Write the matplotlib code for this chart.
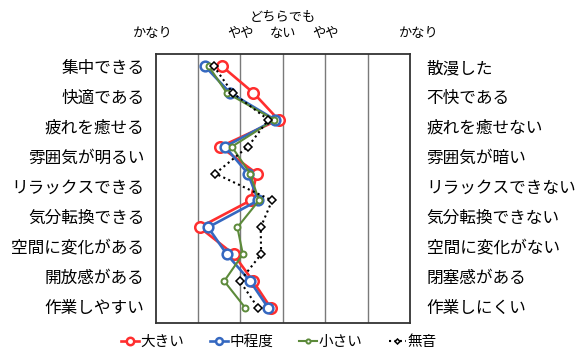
import numpy as np
import matplotlib
matplotlib.use("Agg")
import matplotlib.pyplot as plt
from matplotlib import transforms

plt.rcParams['font.family'] = ['Noto Sans CJK JP', 'DejaVu Sans']

# Semantic differential profile: score per item, -3 (left adjective) .. +3 (right adjective)
left_labels = ["集中できる", "快適である", "疲れを癒せる", "雰囲気が明るい", "リラックスできる",
               "気分転換できる", "空間に変化がある", "開放感がある", "作業しやすい"]
right_labels = ["散漫した", "不快である", "疲れを癒せない", "雰囲気が暗い", "リラックスできない",
                "気分転換できない", "空間に変化がない", "閉塞感がある", "作業しにくい"]
scale_labels = ["かなり", "やや", "ない", "やや", "かなり"]
scale_pos = [-3.07, -1.0, 0.0, 1.0, 3.2]
scale_title = "どちらでも"

series_names = ["大きい", "中程度", "小さい", "無音"]
large = [-1.44, -0.69, -0.10, -1.47, -0.61, -0.76, -1.96, -1.16, -0.70, -0.28]
medium = [-1.84, -1.24, -0.18, -1.36, -0.82, -0.58, -1.76, -1.32, -0.77, -0.34]
small = [-1.75, -1.32, -0.20, -1.20, -0.77, -0.56, -1.07, -0.94, -1.38, -0.88]
silent = [-1.63, -1.18, -0.34, -0.82, -1.59, -0.25, -0.52, -0.51, -1.01, -0.58]

fig = plt.figure(figsize=(5.77, 3.49), dpi=100)
ax = fig.add_axes([155.5 / 577, 1 - 322.7 / 349, (410 - 155.5) / 577, (322.7 - 53.5) / 349])

ypos = np.arange(len(large))
styles = [
    dict(color="#FF2E2E", lw=1.9, marker="o", ms=7.6, mew=1.8, mfc="white", ls="-"),
    dict(color="#3568C0", lw=1.9, marker="o", ms=7.0, mew=1.8, mfc="white", ls="-"),
    dict(color="#5C8A3A", lw=1.5, marker="o", ms=4.3, mew=1.4, mfc="white", ls="-"),
    dict(color="black", lw=1.5, marker="D", ms=3.6, mew=1.1, mfc="white", ls=(0, (1, 1.6))),
]
handles = []
for vals, name, st in zip([large, medium, small, silent], series_names, styles):
    h, = ax.plot(vals, ypos, label=name, zorder=3, **st)
    handles.append(h)

ax.set_xlim(-3, 3)
ax.set_ylim(9.546, -0.465)
for gx in [-2, -1, 0, 1, 2]:
    ax.axvline(gx, color="#7a7a7a", lw=1.0, zorder=1)
for sp in ax.spines.values():
    sp.set_color("#333333")
    sp.set_linewidth(1.3)
ax.set_xticks([])
ax.set_yticks([])

# Item labels on both sides, one row per adjective pair
lab_l = ax.twinx()
lab_l.set_ylim(9.06, 0.06)
lab_l.yaxis.tick_left()
lab_l.set_yticks(np.arange(9) + 0.5)
lab_l.set_yticklabels(left_labels, fontsize=12)
lab_l.tick_params(length=0, pad=8)

lab_r = ax.twinx()
lab_r.set_ylim(9.06, 0.06)
lab_r.set_yticks(np.arange(9) + 0.5)
lab_r.set_yticklabels(right_labels, fontsize=12)
lab_r.tick_params(length=0, pad=12)
for a in (lab_l, lab_r):
    for sp in a.spines.values():
        sp.set_visible(False)

# Scale captions above the frame
tr = transforms.blended_transform_factory(ax.transData, fig.transFigure)
for x, s in zip(scale_pos, scale_labels):
    ax.text(x, 1 - 33 / 349, s, transform=tr, ha="center", va="center", fontsize=9.5)
ax.text(0.0, 1 - 17 / 349, scale_title, transform=tr, ha="center", va="center", fontsize=9.5)

fig.legend(handles=handles, loc="center", bbox_to_anchor=(279 / 577, 1 - 342 / 349),
           ncol=4, frameon=False, fontsize=10.5, markerscale=0.7, handlelength=1.2,
           handletextpad=0.1, columnspacing=1.8)

fig.savefig("out.png", dpi=100)
